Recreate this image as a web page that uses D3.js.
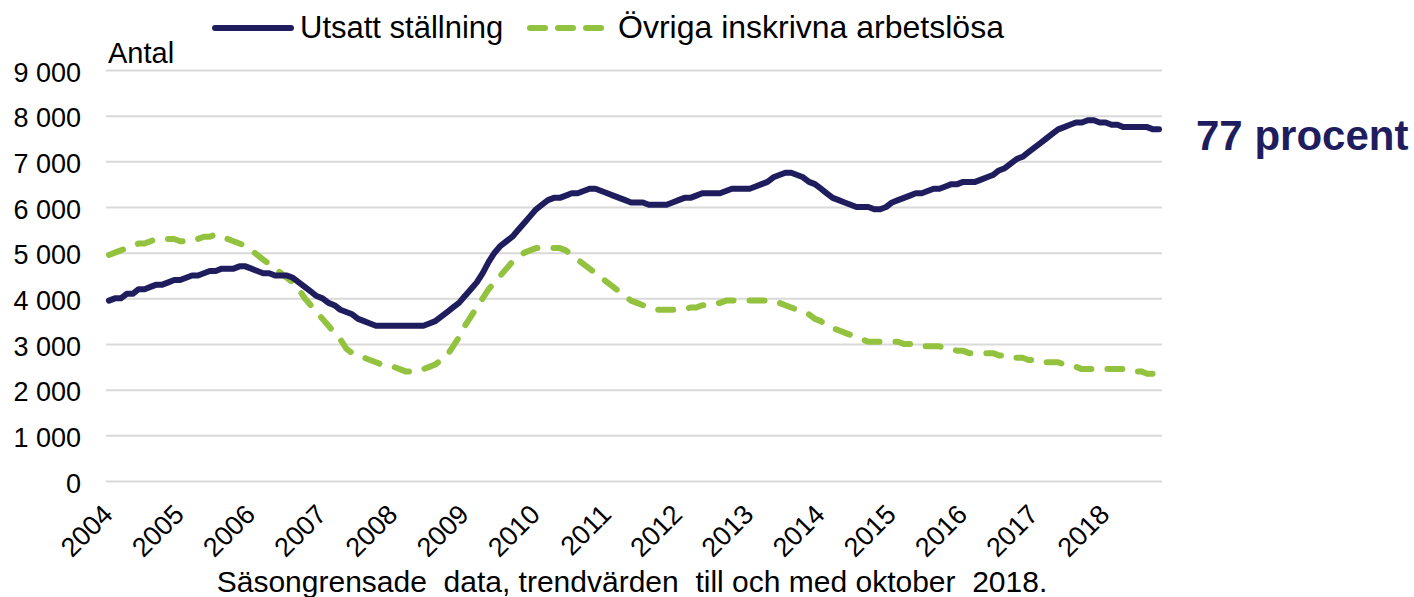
<!DOCTYPE html>
<html>
<head>
<meta charset="utf-8">
<script src="https://cdn.jsdelivr.net/npm/d3@7"></script>
<style>
  body { margin: 0; background: #fff; }
  svg { display: block; font-family: "Liberation Sans", Arial, sans-serif; }
</style>
</head>
<body>
<svg id="chart" width="1414" height="597"></svg>
<script>
// monthly values, jan 2004 - okt 2018
const utsatt = [
  3950, 4000, 4000, 4100, 4100, 4200, 4200, 4250, 4300, 4300, 4350, 4400,
  4400, 4450, 4500, 4500, 4550, 4600, 4600, 4650, 4650, 4650, 4700, 4700,
  4650, 4600, 4550, 4550, 4500, 4500, 4500, 4450, 4350, 4250, 4150, 4050,
  4000, 3900, 3850, 3750, 3700, 3650, 3550, 3500, 3450, 3400, 3400, 3400,
  3400, 3400, 3400, 3400, 3400, 3400, 3450, 3500, 3600, 3700, 3800, 3900,
  4050, 4200, 4350, 4550, 4800, 5000, 5150, 5250, 5350, 5500, 5650, 5800,
  5950, 6050, 6150, 6200, 6200, 6250, 6300, 6300, 6350, 6400, 6400, 6350,
  6300, 6250, 6200, 6150, 6100, 6100, 6100, 6050, 6050, 6050, 6050, 6100,
  6150, 6200, 6200, 6250, 6300, 6300, 6300, 6300, 6350, 6400, 6400, 6400,
  6400, 6450, 6500, 6550, 6650, 6700, 6750, 6750, 6700, 6650, 6550, 6500,
  6400, 6300, 6200, 6150, 6100, 6050, 6000, 6000, 6000, 5950, 5950, 6000,
  6100, 6150, 6200, 6250, 6300, 6300, 6350, 6400, 6400, 6450, 6500, 6500,
  6550, 6550, 6550, 6600, 6650, 6700, 6800, 6850, 6950, 7050, 7100, 7200,
  7300, 7400, 7500, 7600, 7700, 7750, 7800, 7850, 7850, 7900, 7900, 7850,
  7850, 7800, 7800, 7750, 7750, 7750, 7750, 7750, 7700, 7700
];
const ovriga = [
  4950, 5000, 5050, 5100, 5150, 5200, 5200, 5250, 5300, 5300, 5300, 5300,
  5250, 5250, 5300, 5300, 5350, 5350, 5400, 5350, 5300, 5250, 5200, 5150,
  5050, 4950, 4850, 4750, 4650, 4550, 4450, 4350, 4200, 4000, 3850, 3700,
  3550, 3400, 3250, 3100, 2900, 2800, 2750, 2700, 2650, 2600, 2550, 2500,
  2500, 2450, 2400, 2400, 2400, 2450, 2500, 2550, 2650, 2750, 2950, 3150,
  3400, 3600, 3800, 4000, 4200, 4350, 4500, 4650, 4800, 4900, 5000, 5050,
  5100, 5100, 5100, 5100, 5100, 5050, 4950, 4850, 4750, 4650, 4550, 4450,
  4350, 4250, 4150, 4050, 3950, 3900, 3850, 3800, 3750, 3750, 3750, 3750,
  3750, 3750, 3800, 3800, 3850, 3850, 3900, 3900, 3950, 3950, 3950, 3950,
  3950, 3950, 3950, 3950, 3950, 3900, 3850, 3800, 3750, 3700, 3650, 3550,
  3500, 3400, 3350, 3300, 3250, 3200, 3150, 3100, 3050, 3050, 3050, 3050,
  3050, 3050, 3000, 3000, 3000, 2950, 2950, 2950, 2950, 2900, 2900, 2850,
  2850, 2800, 2800, 2800, 2800, 2800, 2750, 2750, 2700, 2700, 2700, 2650,
  2650, 2650, 2600, 2600, 2600, 2550, 2550, 2500, 2450, 2450, 2450, 2450,
  2450, 2450, 2450, 2450, 2400, 2400, 2400, 2350, 2350, 2350
];
const years = ["2004", "2005", "2006", "2007", "2008", "2009", "2010", "2011",
  "2012", "2013", "2014", "2015", "2016", "2017", "2018"];
const yTicks = [0, 1000, 2000, 3000, 4000, 5000, 6000, 7000, 8000, 9000];
const seriesNames = ["Utsatt ställning", "Övriga inskrivna arbetslösa"];

const NAVY = "#201d5e";
const GREEN = "#92c23e";

const svg = d3.select("#chart");
const plot = { left: 106, right: 1162, top: 70, bottom: 481 };

const months = d3.range(utsatt.length);
const x = d3.scalePoint().domain(months).range([plot.left, plot.right]).padding(0.5);
const y = d3.scaleLinear().domain([0, 9000]).range([plot.bottom, plot.top]);

const sv = d3.formatLocale({ decimal: ",", thousands: " ", grouping: [3], currency: ["", " kr"] });

// y axis + grid
const yAxis = svg.append("g")
  .attr("transform", `translate(${plot.left},0)`)
  .call(d3.axisLeft(y).tickValues(yTicks).tickFormat(sv.format(",")).tickSize(-(plot.right - plot.left)).tickPadding(25));
yAxis.select(".domain").remove();
yAxis.selectAll(".tick line").attr("stroke", "#d9d9d9").attr("stroke-width", 2);
yAxis.selectAll(".tick text")
  .attr("font-size", 27).attr("fill", "#000").attr("dy", "0.41em");
yAxis.attr("font-family", null).attr("font-size", null);

svg.append("text").attr("x", 108).attr("y", 63).attr("font-size", 29).text("Antal");

// x axis labels
const xAxis = svg.append("g")
  .attr("transform", `translate(0,${plot.bottom})`)
  .call(d3.axisBottom(x).tickValues(years.map((d, i) => i * 12)).tickFormat(d => years[d / 12]).tickSize(0));
xAxis.select(".domain").remove();
xAxis.attr("font-family", null).attr("font-size", null);
xAxis.selectAll(".tick text")
  .attr("font-size", 27).attr("fill", "#000")
  .attr("text-anchor", "end").attr("dy", null).attr("y", 0)
  .attr("transform", "translate(5,35) rotate(-45)");

// lines
const line = d3.line().x((d, i) => x(i)).y(d => y(d));

svg.append("path").datum(ovriga)
  .attr("d", line).attr("fill", "none").attr("stroke", GREEN)
  .attr("stroke-width", 6).attr("stroke-linecap", "round").attr("stroke-linejoin", "round")
  .attr("stroke-dasharray", "15,16");

svg.append("path").datum(utsatt)
  .attr("d", line).attr("fill", "none").attr("stroke", NAVY)
  .attr("stroke-width", 6).attr("stroke-linecap", "round").attr("stroke-linejoin", "round");

// legend
const leg = svg.append("g").attr("font-size", 31);
leg.append("line").attr("x1", 215).attr("x2", 291).attr("y1", 28).attr("y2", 28)
  .attr("stroke", NAVY).attr("stroke-width", 6).attr("stroke-linecap", "round");
leg.append("text").attr("x", 300).attr("y", 38).text(seriesNames[0]);
leg.append("line").attr("x1", 530).attr("x2", 602).attr("y1", 28).attr("y2", 28)
  .attr("stroke", GREEN).attr("stroke-width", 6).attr("stroke-linecap", "round")
  .attr("stroke-dasharray", "15,13");
leg.append("text").attr("x", 618).attr("y", 38).attr("font-size", 32).text(seriesNames[1]);

svg.append("text").attr("x", 1196).attr("y", 150)
  .attr("font-size", 42).attr("font-weight", "bold").attr("fill", NAVY)
  .text("77 procent");

svg.append("text").attr("x", 632).attr("y", 592).attr("text-anchor", "middle")
  .attr("font-size", 30).style("white-space", "pre")
  .text("Säsongrensade  data, trendvärden  till och med oktober  2018.");
</script>
</body>
</html>
